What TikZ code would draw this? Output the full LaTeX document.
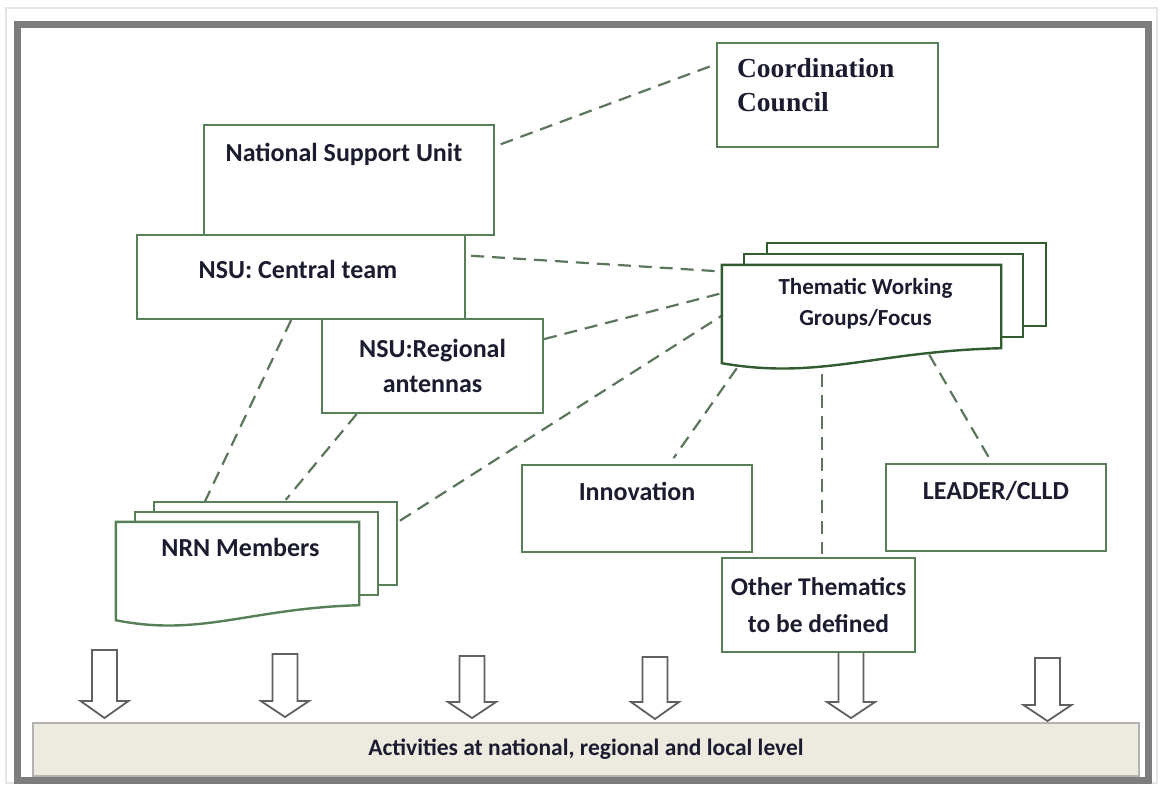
\documentclass[tikz,border=0pt]{standalone}
\usepackage{fontspec}
\setmainfont{Carlito}
\newfontfamily\cambriafont{Liberation Serif}
\usetikzlibrary{positioning}
\usetikzlibrary{calc}

\definecolor{boxgreen}{RGB}{88,128,88}
\definecolor{docgreen}{RGB}{48,92,48}
\definecolor{linkgreen}{RGB}{92,118,92}
\definecolor{txtnavy}{RGB}{28,28,48}
\definecolor{barfill}{RGB}{237,234,224}
\definecolor{framegray}{RGB}{125,125,125}

% stack of three pages, front one with a wavy foot
\newcommand{\pagestack}[6]{%
    \draw[page=#6] ([shift={(#4,#5)}]#1.south west) rectangle ([shift={(#4,#5)}]#1.north east);
    \draw[page=#6] ([shift={(#2,#3)}]#1.south west) rectangle ([shift={(#2,#3)}]#1.north east);
    \draw[page=#6] ($(#1.south west)+(0,15)$) -- (#1.north west) -- (#1.north east) -- (#1.south east)
        .. controls ($(#1.south east)!0.45!(#1.south west)+(0,3)$)
        and ($(#1.south west)!0.35!(#1.south east)+(0,32)$) .. ($(#1.south west)+(0,15)$) -- cycle;
}

\begin{document}
\begin{tikzpicture}[x=1pt,y=-1pt,
        box/.style={draw=boxgreen, line width=2.2pt, fill=white, inner sep=0pt},
        pagearea/.style={inner sep=0pt},
        page/.style={draw=#1, line width=2.4pt, fill=white, line join=miter},
        lbl/.style={font=\bfseries\fontsize{26}{36}\selectfont, text=txtnavy, align=center, inner sep=0pt},
        link/.style={draw=linkgreen, line width=2.2pt, dash pattern=on 13pt off 8pt},
        downarrow/.style={draw=gray!75!black, line width=1.8pt, fill=white}]
    \useasboundingbox (0,0) rectangle (1163,785);

    % frames
    \draw[gray!20, line width=1.5pt] (6,8) rectangle (1157,783);
    \draw[framegray, line width=7pt] (17.5,24.5) rectangle (1148,780);

    % boxes
    \node[box, minimum width=221, minimum height=104] (cc) at (827.5,95) {};
    \node[box, minimum width=290, minimum height=110] (nsu) at (349,180) {};
    \node[box, minimum width=328, minimum height=84] (central) at (301,277) {};
    \node[box, minimum width=221, minimum height=94] (regional) at (432.5,366) {};
    \node[box, minimum width=230, minimum height=87] (innov) at (637,508.5) {};
    \node[box, minimum width=220, minimum height=87] (leader) at (996,507.5) {};
    \node[pagearea, minimum width=279, minimum height=83] (twg) at (861.5,306.5) {};
    \node[pagearea, minimum width=243, minimum height=83] (nrn) at (237.5,563.5) {};

    % dashed links
    \draw[link, shorten <=6pt] ($(nsu.north east)!0.2!(nsu.south east)$) -- ($(cc.north west)!0.21!(cc.south west)$);
    \draw[link, shorten <=5pt] ($(central.north east)!0.25!(central.south east)$) -- ($(twg.north west)!0.08!(twg.south west)$);
    \draw[link] ($(regional.north east)!0.22!(regional.south east)$) -- ($(twg.north west)!0.34!(twg.south west)$);
    \draw[link, shorten <=2pt] ($(nrn.north east)+(39,0)$) -- ($(twg.north west)!0.61!(twg.south west)$);
    \draw[link] ($(central.south west)!0.47!(central.south east)$) -- ($(nrn.north west)+(89,-20)$);
    \draw[link] ($(regional.south west)!0.16!(regional.south east)$) -- ($(nrn.north west)+(170,-22)$);
    \draw[link, shorten >=7pt] ($(twg.south west)+(15,20)$) -- ($(innov.north west)!0.64!(innov.north east)$);
    \draw[link, shorten >=4pt] ($(twg.south west)+(100,26)$) -- ($(twg.south west)+(100,210)$);
    \draw[link, shorten <=4pt, shorten >=2pt] ($(twg.south east)+(-74,3)$) -- ($(leader.north)+(-4,0)$);

    % redraw boxes over the links
    \node[box, minimum width=221, minimum height=104] at (cc) {};
    \node[box, minimum width=290, minimum height=110] at (nsu) {};
    \node[box, minimum width=328, minimum height=84] at (central) {};
    \node[box, minimum width=221, minimum height=94] at (regional) {};

    % page stacks
    \pagestack{twg}{22}{-11}{45}{-22}{docgreen}
    \pagestack{nrn}{19}{-10}{38}{-20}{boxgreen}

    % down arrows
    \foreach \cx/\top/\base/\tip in {104.5/650/701/718, 285/654/701/717, 472/656/702/718,
                                     655/657/702/719, 851/652/702/718, 1047.5/658/705/721}
        \draw[downarrow] (\cx-12.5,\top) -- (\cx+12.5,\top) -- (\cx+12.5,\base) -- (\cx+24,\base)
            -- (\cx,\tip) -- (\cx-24,\base) -- (\cx-12.5,\base) -- cycle;

    \node[box, minimum width=193, minimum height=94] (other) at (818.5,605) {};
    \node[draw=gray!60, line width=1.5pt, fill=barfill, minimum width=1106, minimum height=53,
          font=\bfseries\fontsize{23.5}{26}\selectfont, text=txtnavy] (bar) at (586,749.5)
          {Activities at national, regional and local level};

    % labels
    \node[lbl, anchor=west, align=left, font=\cambriafont\bfseries\fontsize{27.5}{34}\selectfont]
        (cctext) at ($(cc.north west)+(21,43)$) {Coordination\\Council};
    \node[lbl] (nsutext) at ($(nsu.north)+(-5,30)$) {National Support Unit};
    \node[lbl] (centraltext) at ($(central)+(-3,-8)$) {NSU: Central team};
    \node[lbl, font=\bfseries\fontsize{26}{35}\selectfont] (regionaltext) at (regional) {NSU:Regional\\antennas};
    \node[lbl, font=\bfseries\fontsize{23}{31}\selectfont] (twgtext) at ($(twg)+(4,-3)$) {Thematic Working\\Groups/Focus};
    \node[lbl] (nrntext) at ($(nrn.north)+(3,26)$) {NRN Members};
    \node[lbl] (innovtext) at ($(innov.north)+(0,28)$) {Innovation};
    \node[lbl] (leadertext) at ($(leader.north)+(0,28)$) {LEADER/CLLD};
    \node[lbl, font=\bfseries\fontsize{25.5}{37}\selectfont] (othertext) at (other) {Other Thematics\\to be defined};
\end{tikzpicture}
\end{document}
